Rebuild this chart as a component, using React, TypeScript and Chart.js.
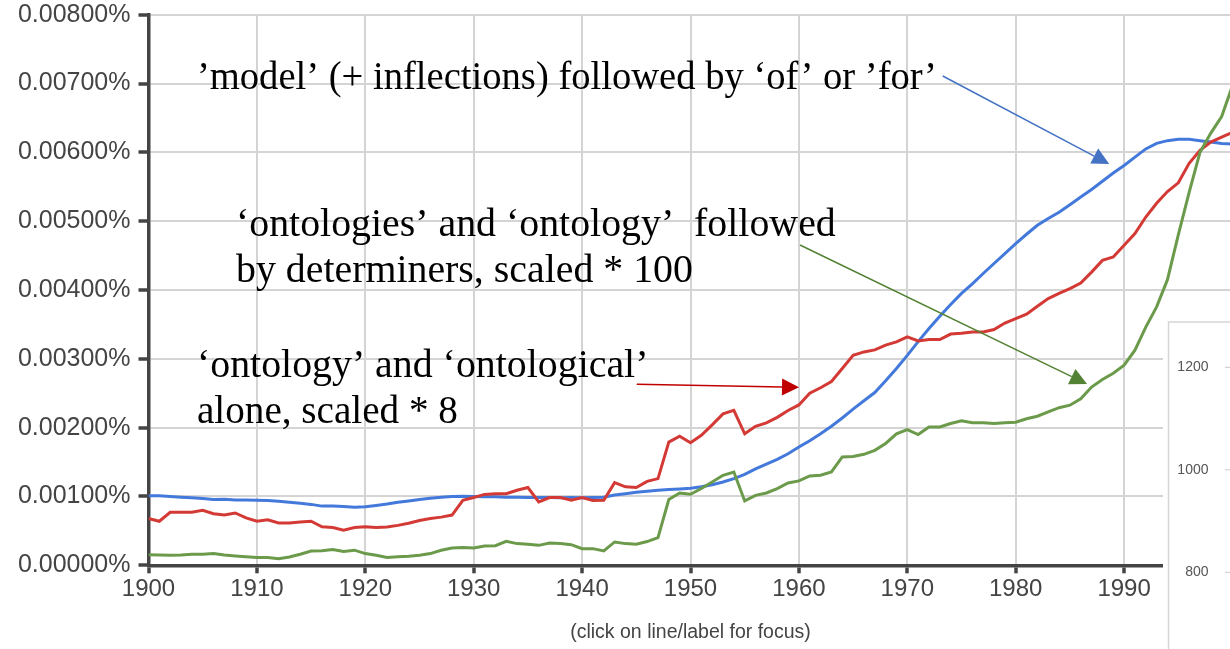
import React, { useEffect, useRef } from 'react';
import { Chart, registerables } from 'chart.js';

Chart.register(...registerables);

// ---- data ----
const years = [
  1900, 1901, 1902, 1903, 1904, 1905, 1906, 1907, 1908, 1909,
  1910, 1911, 1912, 1913, 1914, 1915, 1916, 1917, 1918, 1919,
  1920, 1921, 1922, 1923, 1924, 1925, 1926, 1927, 1928, 1929,
  1930, 1931, 1932, 1933, 1934, 1935, 1936, 1937, 1938, 1939,
  1940, 1941, 1942, 1943, 1944, 1945, 1946, 1947, 1948, 1949,
  1950, 1951, 1952, 1953, 1954, 1955, 1956, 1957, 1958, 1959,
  1960, 1961, 1962, 1963, 1964, 1965, 1966, 1967, 1968, 1969,
  1970, 1971, 1972, 1973, 1974, 1975, 1976, 1977, 1978, 1979,
  1980, 1981, 1982, 1983, 1984, 1985, 1986, 1987, 1988, 1989,
  1990, 1991, 1992, 1993, 1994, 1995, 1996, 1997, 1998, 1999,
  2000,
];

// 'model' (+ inflections) followed by 'of' or 'for'  (percent)
const modelOfFor = [
  0.00101, 0.00101, 0.00100, 0.00099, 0.00098, 0.00097, 0.000955, 0.00096, 0.00095, 0.00095,
  0.000945, 0.00094, 0.00093, 0.000915, 0.00090, 0.000885, 0.00086, 0.00086, 0.000855, 0.000845,
  0.00085, 0.00087, 0.00089, 0.000915, 0.000935, 0.000955, 0.000975, 0.00099, 0.00100, 0.001005,
  0.00100, 0.000995, 0.000995, 0.00099, 0.00099, 0.000985, 0.000985, 0.000985, 0.00098, 0.000985,
  0.00098, 0.000985, 0.00099, 0.00102, 0.00104, 0.00106, 0.001075, 0.00109, 0.00110, 0.00111,
  0.00112, 0.00114, 0.00117, 0.00121, 0.00126, 0.00132, 0.00140, 0.00147, 0.00154, 0.00162,
  0.00172, 0.00181, 0.00191, 0.00202, 0.00214, 0.00227, 0.00239, 0.00251, 0.00268, 0.00286,
  0.00305, 0.00325, 0.00344, 0.00362, 0.00379, 0.00395, 0.00409, 0.00424, 0.004385, 0.00453,
  0.004675, 0.00481, 0.00494, 0.00504, 0.00513, 0.00524, 0.00535, 0.00546, 0.00558, 0.00570,
  0.00581, 0.00593, 0.00605, 0.00613, 0.00617, 0.00619, 0.00619, 0.00617, 0.00615, 0.00613,
  0.00612,
];

// 'ontology' and 'ontological' alone, scaled * 8  (percent)
const ontologyAlone = [
  0.00068, 0.00064, 0.00077, 0.00077, 0.00077, 0.00080, 0.00075, 0.00073, 0.00076, 0.00069,
  0.00064, 0.00066, 0.000615, 0.000615, 0.00063, 0.00064, 0.00056, 0.00055, 0.00051, 0.00055,
  0.00056, 0.00055, 0.000555, 0.00058, 0.00061, 0.00065, 0.00068, 0.00070, 0.00073, 0.000945,
  0.000985, 0.00103, 0.00104, 0.00104, 0.00109, 0.00113, 0.00092, 0.000985, 0.000985, 0.000945,
  0.000985, 0.00094, 0.000945, 0.00120, 0.00114, 0.00113, 0.00122, 0.00126, 0.00179, 0.001875,
  0.00178, 0.00189, 0.00204, 0.00220, 0.00225, 0.00191, 0.00202, 0.00207, 0.00215, 0.00225,
  0.00233, 0.00250, 0.00258, 0.00267, 0.00286, 0.00305, 0.00310, 0.00313, 0.00320, 0.003245,
  0.00332, 0.00326, 0.00328, 0.00328, 0.00336, 0.00337, 0.00339, 0.00339, 0.003425, 0.00352,
  0.003585, 0.00365, 0.003765, 0.003876, 0.00395, 0.00402, 0.00410, 0.00426, 0.00443, 0.00448,
  0.00465, 0.00482, 0.00506, 0.00526, 0.00543, 0.005557, 0.00584, 0.00603, 0.00615, 0.00622,
  0.00629,
];

// 'ontologies' and 'ontology' followed by determiners, scaled * 100  (percent)
const ontologyDeterminers = [
  0.000155, 0.00015, 0.000145, 0.00015, 0.00016, 0.00016, 0.00017, 0.00015, 0.000136, 0.000125,
  0.000112, 0.000112, 0.000097, 0.00012, 0.00016, 0.000208, 0.00021, 0.000228, 0.00020, 0.00022,
  0.00017, 0.000145, 0.000112, 0.000125, 0.000131, 0.000145, 0.00017, 0.000218, 0.000252, 0.000257,
  0.000252, 0.000281, 0.000285, 0.000349, 0.000315, 0.000305, 0.00029, 0.000325, 0.000315, 0.00030,
  0.000242, 0.000242, 0.000208, 0.000339, 0.000315, 0.000305, 0.000345, 0.000402, 0.000955, 0.001051,
  0.001032, 0.001115, 0.001211, 0.001308, 0.001356, 0.000935, 0.001017, 0.001051, 0.001115, 0.001196,
  0.001226, 0.001298, 0.001308, 0.001356, 0.001574, 0.00158, 0.001613, 0.001671, 0.00177, 0.00191,
  0.00197, 0.00190, 0.00201, 0.00201, 0.00206, 0.00210, 0.00207, 0.00207, 0.00206, 0.00207,
  0.00208, 0.00213, 0.002166, 0.00223, 0.00229, 0.002326, 0.00242, 0.00259, 0.00270, 0.00279,
  0.002907, 0.003125, 0.00346, 0.003755, 0.00415, 0.00480, 0.00542, 0.00600, 0.00628, 0.00652,
  0.00697,
];

// tick labels of the partly visible chart pasted in the lower right corner
const panelTicks = [1200, 1000, 800];

// ---- annotations (positioned in data space) ----
const annotationLines = [
  { text: '’model’ (+ inflections) followed by ‘of’ or ’for’', year: 1904.47, value: 0.006916, width: 740 },
  { text: '‘ontologies’ and ‘ontology’  followed', year: 1908.07, value: 0.004784, width: 600 },
  { text: 'by determiners, scaled * 100', year: 1908.07, value: 0.004112, width: 461 },
  { text: '‘ontology’ and ‘ontological’', year: 1904.47, value: 0.00274, width: 453 },
  { text: 'alone, scaled * 8', year: 1904.47, value: 0.002072, width: 261 },
];

const arrows = [
  { color: '#4472C4', fromYear: 1973.27, fromValue: 0.007109, toYear: 1988.63, toValue: 0.00583 },
  { color: '#548235', fromYear: 1960.1, fromValue: 0.004654, toYear: 1986.58, toValue: 0.002634 },
  { color: '#C00000', fromYear: 1945.04, fromValue: 0.00263, toYear: 1960.01, toValue: 0.002586 },
];

const SANS = '"Liberation Sans", Arial, Helvetica, sans-serif';
const SERIF = '"Liberation Serif", "Times New Roman", serif';

function drawArrow(ctx: CanvasRenderingContext2D, x1: number, y1: number, x2: number, y2: number, color: string) {
  const dx = x2 - x1;
  const dy = y2 - y1;
  const len = Math.hypot(dx, dy);
  const ux = dx / len;
  const uy = dy / len;
  const headLen = 17;
  const headHalf = 8.5;
  const bx = x2 - ux * headLen;
  const by = y2 - uy * headLen;
  ctx.strokeStyle = color;
  ctx.lineWidth = 1.5;
  ctx.beginPath();
  ctx.moveTo(x1, y1);
  ctx.lineTo(bx, by);
  ctx.stroke();
  ctx.fillStyle = color;
  ctx.beginPath();
  ctx.moveTo(x2, y2);
  ctx.lineTo(bx - uy * headHalf, by + ux * headHalf);
  ctx.lineTo(bx + uy * headHalf, by - ux * headHalf);
  ctx.closePath();
  ctx.fill();
}

const overlayPlugin = {
  id: 'overlayPlugin',
  afterDatasetsDraw(chart: any) {
    const { ctx, scales } = chart;
    const xs = scales.x;
    const ys = scales.y;
    ctx.save();
    for (const a of arrows) {
      drawArrow(
        ctx,
        xs.getPixelForValue(a.fromYear),
        ys.getPixelForValue(a.fromValue),
        xs.getPixelForValue(a.toYear),
        ys.getPixelForValue(a.toValue),
        a.color,
      );
    }
    // fit the annotation font to the width of the second line of the reference
    ctx.font = `100px ${SERIF}`;
    const w100 = ctx.measureText(annotationLines[1].text).width;
    const size = (100 * annotationLines[1].width) / w100;
    ctx.font = `${size}px ${SERIF}`;
    ctx.fillStyle = '#000';
    ctx.textAlign = 'left';
    ctx.textBaseline = 'alphabetic';
    for (const l of annotationLines) {
      ctx.fillText(l.text, xs.getPixelForValue(l.year), ys.getPixelForValue(l.value), l.width);
    }
    ctx.restore();
  },
  afterDraw(chart: any) {
    const { ctx } = chart;
    ctx.save();
    // white panel of another chart overlapping the lower right corner
    const left = 1163;
    const top = 317;
    ctx.fillStyle = '#fff';
    ctx.fillRect(left, top, chart.width - left, chart.height - top);
    ctx.strokeStyle = '#d6d6d6';
    ctx.lineWidth = 1.5;
    ctx.beginPath();
    ctx.moveTo(left + 5.5, chart.height);
    ctx.lineTo(left + 5.5, top + 5);
    ctx.lineTo(chart.width, top + 5);
    ctx.stroke();
    ctx.font = `14px ${SANS}`;
    ctx.fillStyle = '#555';
    ctx.textAlign = 'right';
    ctx.textBaseline = 'middle';
    for (const t of panelTicks) {
      const py = 367.3 + (1200 - t) * 0.5125;
      ctx.fillText(String(t), 1208.5, py);
      ctx.strokeStyle = '#c8c8c8';
      ctx.lineWidth = 1;
      ctx.beginPath();
      ctx.moveTo(1225, py);
      ctx.lineTo(1234, py);
      ctx.stroke();
    }
    ctx.restore();
  },
};

export default function App() {
  const ref = useRef<HTMLCanvasElement>(null);
  useEffect(() => {
    const canvas = ref.current;
    if (!canvas) return;
    const mk = (vals: number[]) => years.map((x, i) => ({ x, y: vals[i] }));
    const gridCommon = {
      color: '#d4d4d4',
      lineWidth: 2,
      tickColor: '#444',
      tickWidth: 3.5,
    };
    const chart = new Chart(canvas, {
      type: 'line',
      data: {
        datasets: [
          {
            label: "'model' (+ inflections) followed by 'of' or 'for'",
            data: mk(modelOfFor),
            borderColor: '#4479DC',
            backgroundColor: '#4479DC',
            borderWidth: 3,
            pointRadius: 0,
            order: 2,
          },
          {
            label: "'ontology' and 'ontological' alone, scaled * 8",
            data: mk(ontologyAlone),
            borderColor: '#D43A35',
            backgroundColor: '#D43A35',
            borderWidth: 3,
            pointRadius: 0,
            order: 1,
          },
          {
            label: "'ontologies' and 'ontology' followed by determiners, scaled * 100",
            data: mk(ontologyDeterminers),
            borderColor: '#6B9A4B',
            backgroundColor: '#6B9A4B',
            borderWidth: 3,
            pointRadius: 0,
            order: 0,
          },
        ],
      },
      options: {
        animation: false,
        responsive: false,
        devicePixelRatio: 1,
        layout: { padding: { left: 0, top: 14.7, right: 29.5, bottom: 0 } },
        plugins: {
          legend: { display: false },
          tooltip: { enabled: false },
        },
        scales: {
          x: {
            type: 'linear',
            min: 1900,
            max: 2000,
            afterFit: (s: any) => {
              s.height = 83.7;
              s.paddingLeft = 0;
              s.paddingRight = 0;
            },
            ticks: {
              stepSize: 10,
              autoSkip: false,
              maxRotation: 0,
              padding: 2,
              color: '#444',
              font: { family: SANS, size: 24 },
              callback: (v: any) => String(v),
            },
            grid: { ...gridCommon, tickLength: 8 },
            border: { color: '#444', width: 3.5 },
            title: {
              display: true,
              text: '(click on line/label for focus)',
              color: '#444',
              font: { family: SANS, size: 19.5 },
              padding: { top: 0, bottom: 4.3 },
            },
          },
          y: {
            type: 'linear',
            min: 0,
            max: 0.008,
            afterFit: (s: any) => {
              s.width = 148.5;
              s.paddingTop = 0;
              s.paddingBottom = 0;
            },
            ticks: {
              stepSize: 0.001,
              padding: 8,
              color: '#444',
              font: { family: SANS, size: 25 },
              callback: (v: any) => Number(v).toFixed(5) + '%',
            },
            grid: { ...gridCommon, tickLength: 10 },
            border: { color: '#444', width: 3.5 },
          },
        },
      } as any,
      plugins: [overlayPlugin],
    });
    return () => chart.destroy();
  }, []);
  return (
    <div
      style={{
        position: 'fixed',
        left: 0,
        top: 0,
        width: 1230,
        height: 649,
        overflow: 'hidden',
        background: '#fff',
      }}
    >
      <canvas ref={ref} width={1262} height={649} style={{ display: 'block' }} />
    </div>
  );
}
